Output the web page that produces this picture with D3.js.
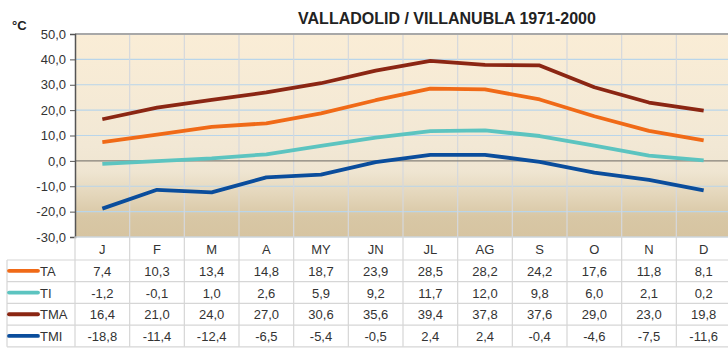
<!DOCTYPE html>
<html>
<head>
<meta charset="utf-8">
<script src="https://cdn.jsdelivr.net/npm/d3@7"></script>
<style>
  body { margin: 0; background: #fff; }
  svg { display: block; font-family: "Liberation Sans", Arial, sans-serif; }
</style>
</head>
<body>
<svg id="chart" width="728" height="348"></svg>
<script>
// Monthly temperature climatology, Valladolid / Villanubla 1971-2000
const months = ["J", "F", "M", "A", "MY", "JN", "JL", "AG", "S", "O", "N", "D"];
const seriesNames = ["TA", "TI", "TMA", "TMI"];
const seriesColors = ["#f06a17", "#5cc4c0", "#8b2613", "#0a4d9c"];
const TA  = [7.4, 10.3, 13.4, 14.8, 18.7, 23.9, 28.5, 28.2, 24.2, 17.6, 11.8, 8.1];
const TI  = [-1.2, -0.1, 1.0, 2.6, 5.9, 9.2, 11.7, 12.0, 9.8, 6.0, 2.1, 0.2];
const TMA = [16.4, 21.0, 24.0, 27.0, 30.6, 35.6, 39.4, 37.8, 37.6, 29.0, 23.0, 19.8];
const TMI = [-18.8, -11.4, -12.4, -6.5, -5.4, -0.5, 2.4, 2.4, -0.4, -4.6, -7.5, -11.6];
const yTicks = [-30, -20, -10, 0, 10, 20, 30, 40, 50];
const title = "VALLADOLID / VILLANUBLA 1971-2000";
const unit = "°C";

const seriesValues = [TA, TI, TMA, TMI];
const fmt = v => d3.format(".1f")(v).replace(".", ",").replace("−", "-");

const svg = d3.select("#chart");
const plot = { left: 75, right: 731, top: 34, bottom: 237 };

const x = d3.scaleBand().domain(months).range([plot.left, plot.right]);
const y = d3.scaleLinear().domain([-30, 50]).range([plot.bottom, plot.top]);

// Background gradient of the plot area
const defs = svg.append("defs");
const grad = defs.append("linearGradient").attr("id", "bg")
  .attr("x1", 0).attr("y1", 0).attr("x2", 0).attr("y2", 1);
[[0, "#faedd6"], [0.55, "#f2e8d5"], [0.68, "#efe5d1"], [0.8, "#e3d5b9"], [0.9, "#d8c7a5"], [1, "#d6c4a1"]]
  .forEach(([o, c]) => grad.append("stop").attr("offset", o).attr("stop-color", c));

svg.append("rect")
  .attr("x", plot.left).attr("y", plot.top)
  .attr("width", plot.right - plot.left).attr("height", plot.bottom - plot.top)
  .attr("fill", "url(#bg)");

// Horizontal grid
svg.append("g").selectAll("line").data(yTicks.filter(t => t !== 0 && t !== 50)).join("line")
  .attr("x1", plot.left).attr("x2", plot.right)
  .attr("y1", d => y(d)).attr("y2", d => y(d))
  .attr("stroke", "#b9d5ea").attr("stroke-width", 1.2);

// Vertical grid
svg.append("g").selectAll("line").data(months.slice(1)).join("line")
  .attr("x1", d => x(d)).attr("x2", d => x(d))
  .attr("y1", plot.top).attr("y2", plot.bottom)
  .attr("stroke", "#d5d8dc").attr("stroke-width", 1.2);

// Zero line
svg.append("line")
  .attr("x1", plot.left).attr("x2", plot.right)
  .attr("y1", y(0)).attr("y2", y(0))
  .attr("stroke", "#858078").attr("stroke-width", 1.4);

// Top border
svg.append("line")
  .attr("x1", plot.left).attr("x2", plot.right)
  .attr("y1", plot.top).attr("y2", plot.top)
  .attr("stroke", "#a8a8a8").attr("stroke-width", 2);

// Y axis
const yAxis = d3.axisLeft(y).tickValues(yTicks).tickFormat(fmt).tickSize(5).tickPadding(4);
const ga = svg.append("g").attr("transform", `translate(${plot.left},0)`).call(yAxis);
ga.select(".domain").attr("stroke", "#555").attr("stroke-width", 1.5);
ga.selectAll(".tick line").attr("stroke", "#555");
ga.selectAll(".tick text").attr("font-size", 13).attr("fill", "#333")
  .attr("font-family", "Liberation Sans, Arial, sans-serif");

// Unit label and title
svg.append("text").attr("x", 12).attr("y", 30).text(unit)
  .attr("font-size", 13).attr("font-weight", "bold").attr("fill", "#222");
svg.append("text").attr("x", 447).attr("y", 24).attr("text-anchor", "middle").text(title)
  .attr("font-size", 16).attr("font-weight", "bold").attr("fill", "#222");

// Series lines
const line = d3.line()
  .x((d, i) => x(months[i]) + x.bandwidth() / 2)
  .y(d => y(d));

seriesValues.forEach((vals, k) => {
  svg.append("path").datum(vals)
    .attr("d", line)
    .attr("fill", "none")
    .attr("stroke", seriesColors[k])
    .attr("stroke-width", 3.8)
    .attr("stroke-linejoin", "round");
});

// Data table
const rowH = 21.7;
const catTop = plot.bottom, catBottom = 260;
const tableLeft = 7;
const tableRight = plot.right;
const grid = svg.append("g").attr("stroke", "#d6d6d6").attr("stroke-width", 1.2);

// Horizontal table lines
grid.append("line").attr("x1", plot.left).attr("x2", tableRight).attr("y1", catTop).attr("y2", catTop);
for (let r = 0; r <= seriesNames.length; r++) {
  const yy = catBottom + r * rowH;
  grid.append("line").attr("x1", tableLeft).attr("x2", tableRight).attr("y1", yy).attr("y2", yy);
}
// Vertical table lines
grid.append("line").attr("x1", tableLeft).attr("x2", tableLeft)
  .attr("y1", catBottom).attr("y2", catBottom + seriesNames.length * rowH);
months.forEach(m => {
  grid.append("line").attr("x1", x(m)).attr("x2", x(m))
    .attr("y1", catTop).attr("y2", catBottom + seriesNames.length * rowH);
});

// Category labels
svg.append("g").selectAll("text").data(months).join("text")
  .attr("x", d => x(d) + x.bandwidth() / 2)
  .attr("y", (catTop + catBottom) / 2 + 5)
  .attr("text-anchor", "middle")
  .attr("font-size", 13).attr("fill", "#333")
  .text(d => d);

// Series rows: legend key + values
seriesNames.forEach((name, k) => {
  const cy = catBottom + k * rowH + rowH / 2;
  svg.append("line")
    .attr("x1", 9).attr("x2", 38).attr("y1", cy).attr("y2", cy)
    .attr("stroke", seriesColors[k]).attr("stroke-width", 3.8).attr("stroke-linecap", "round");
  svg.append("text").attr("x", 40).attr("y", cy + 5)
    .attr("font-size", 13).attr("fill", "#333").text(name);
  svg.append("g").selectAll("text").data(seriesValues[k]).join("text")
    .attr("x", (d, i) => x(months[i]) + x.bandwidth() / 2)
    .attr("y", cy + 5)
    .attr("text-anchor", "middle")
    .attr("font-size", 13).attr("fill", "#333")
    .text(d => fmt(d));
});
</script>
</body>
</html>
